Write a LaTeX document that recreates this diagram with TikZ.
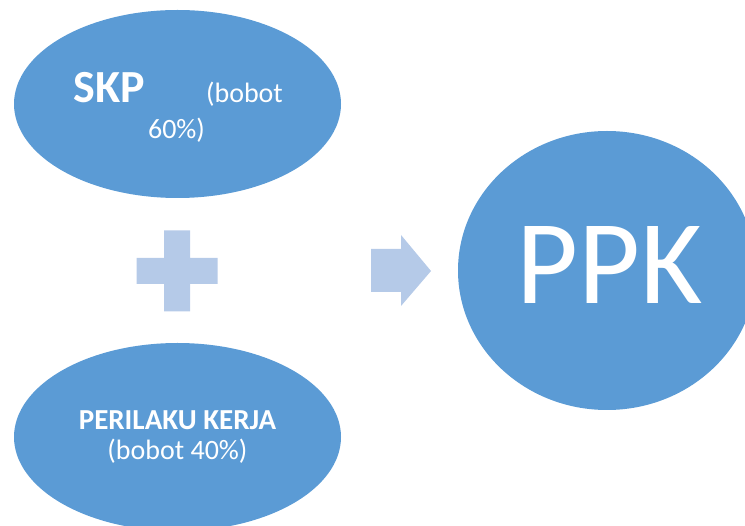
\documentclass[tikz,border=0pt]{standalone}
\usepackage{fontspec}
\setmainfont{Carlito}
\usetikzlibrary{shapes.geometric}
\definecolor{bubble}{HTML}{5B9BD5}
\definecolor{sign}{HTML}{B5CAE8}
\begin{document}
\begin{tikzpicture}[x=1pt,y=-1pt,
  bubble/.style={ellipse,fill=bubble,draw=none,inner sep=0pt},
  label/.style={text=white,anchor=base,inner sep=0pt},
  signshape/.style={fill=sign,draw=none}]
\useasboundingbox (0,0) rectangle (745,526);
\begin{scope}
\clip (0,0) rectangle (745,526);
% input ellipses and result circle
\node[bubble,minimum width=327pt,minimum height=188pt] (skpbox) at (177.5,104) {};
\node[bubble,minimum width=327pt,minimum height=188pt] (pkbox) at (177.5,437) {};
\node[bubble,minimum width=298pt,minimum height=279pt] (ppkbox) at (607,270.5) {};
\end{scope}
% plus sign
\coordinate (plus) at (177,271);
\fill[signshape] ([shift={(-13,-40.5)}]plus) -- ([shift={(13,-40.5)}]plus) -- ([shift={(13,-13)}]plus)
  -- ([shift={(40.5,-13)}]plus) -- ([shift={(40.5,13)}]plus) -- ([shift={(13,13)}]plus)
  -- ([shift={(13,40.5)}]plus) -- ([shift={(-13,40.5)}]plus) -- ([shift={(-13,13)}]plus)
  -- ([shift={(-40.5,13)}]plus) -- ([shift={(-40.5,-13)}]plus) -- ([shift={(-13,-13)}]plus) -- cycle;
% block arrow
\coordinate (arr) at (371,270.5);
\fill[signshape] ([shift={(0,-21.5)}]arr) -- ([shift={(30,-21.5)}]arr) -- ([shift={(30,-35.5)}]arr)
  -- ([shift={(60,0.5)}]arr) -- ([shift={(30,35.5)}]arr) -- ([shift={(30,21.5)}]arr)
  -- ([shift={(0,21.5)}]arr) -- cycle;
% texts
\node[label,font=\fontsize{46}{46}\selectfont\bfseries] (skp) at (109.5,102.7) {SKP};
\node[label,font=\fontsize{28}{28}\selectfont] (bobota) at (244.5,102.7) {(bobot};
\node[label,font=\fontsize{28}{28}\selectfont] (bobotb) at (176.5,139) {60\%)};
\node[label,font=\fontsize{29}{29}\selectfont\bfseries] (pk) at (177.5,430) {PERILAKU KERJA};
\node[label,font=\fontsize{28}{28}\selectfont] (pkw) at (177.5,460) {(bobot 40\%)};
\node[label,font=\fontsize{120}{120}\selectfont] (ppk) at (610,304) {PPK};
\end{tikzpicture}
\end{document}
